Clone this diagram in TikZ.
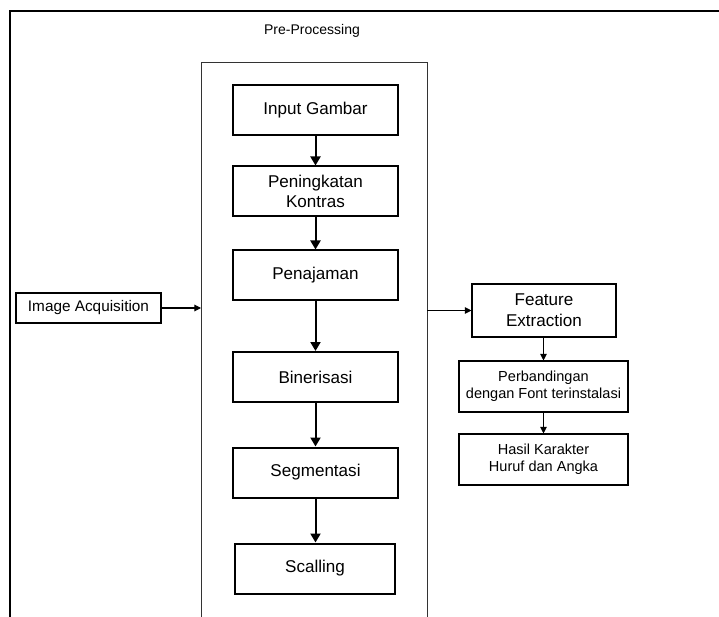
\documentclass[tikz,border=0pt]{standalone}
\usepackage{fontspec}
\setmainfont{Liberation Sans}
\usetikzlibrary{arrows.meta}
\begin{document}
\begin{tikzpicture}[x=0.75pt,y=-0.75pt,
  mainbox/.style={draw, line width=1.5pt, minimum width=123.75pt, minimum height=37.5pt, inner sep=0pt, align=center, font=\fontsize{12.8}{15}\selectfont},
  thinbox/.style={draw, line width=0.8pt, inner sep=0pt, align=center},
  bigarrow/.style={line width=1.5pt, -{Triangle[length=6.75pt,width=7.5pt]}},
  smallarrow/.style={line width=0.8pt, -{Triangle[length=5pt,width=5pt]}},
  frameline/.style={line width=2.2pt},
  preline/.style={line width=0.6pt, black!80}
]
\useasboundingbox (0,0) rectangle (719,617);
% outer frame
\draw[frameline] (719,11) -- (10,11) -- (10,617);
% pre-processing box (open at bottom)
\draw[preline] (201,617) -- (201,62) -- (427,62) -- (427,617);
\node[font=\fontsize{10.5}{12}\selectfont] (pretitle) at (312,31) {Pre-Processing};
% main column
\node[mainbox] (input) at (315.5,110) {Input Gambar};
\node[mainbox] (kontras) at (315.5,191.5) {Peningkatan\\Kontras};
\node[mainbox] (tajam) at (315.5,275.5) {Penajaman};
\node[mainbox] (biner) at (315.5,377) {Binerisasi};
\node[mainbox] (segmen) at (315.5,472.5) {Segmentasi};
\node[mainbox, minimum width=120pt] (scal) at (315,568.5) {Scalling};
\draw[bigarrow] (input) -- (kontras);
\draw[bigarrow] (kontras) -- (tajam);
\draw[bigarrow] (tajam) -- (biner);
\draw[bigarrow] (biner) -- (segmen);
\draw[bigarrow] (segmen.south) -- (segmen.south |- scal.north);
% image acquisition
\node[thinbox, minimum width=108.75pt, minimum height=22.5pt, font=\fontsize{11.5}{13}\selectfont] (img) at (88.5,308) {Image Acquisition};
\coordinate (preL) at (201,308);
\draw[smallarrow] (img.east) -- (preL);
% right side
\node[thinbox, minimum width=108pt, minimum height=39.75pt, font=\fontsize{12.8}{15.5}\selectfont] (feat) at (544,310.5) {Feature\\Extraction};
\node[thinbox, minimum width=126.75pt, minimum height=38.25pt, font=\fontsize{10.9}{12.6}\selectfont] (banding) at (543.5,386.5) {Perbandingan\\dengan Font terinstalasi};
\node[thinbox, minimum width=126.75pt, minimum height=38.25pt, font=\fontsize{10.9}{12.75}\selectfont] (hasil) at (543.5,459.5) {Hasil Karakter\\Huruf dan Angka};
\coordinate (preR) at (427,310.5);
\draw[smallarrow] (preR) -- (feat.west);
\draw[smallarrow] (feat.south -| banding.north) -- (banding.north);
\draw[smallarrow] (banding) -- (hasil);
\end{tikzpicture}
\end{document}
